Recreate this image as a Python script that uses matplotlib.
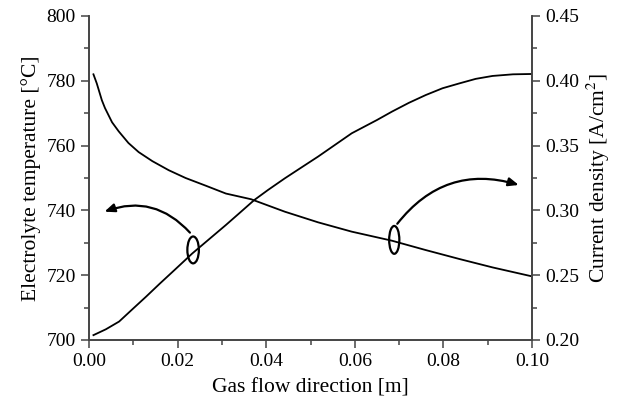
import matplotlib
matplotlib.use('Agg')
import matplotlib.pyplot as plt
from matplotlib.patches import Ellipse, FancyArrowPatch
from matplotlib.ticker import MultipleLocator

plt.rcParams['font.family'] = ['Liberation Serif', 'DejaVu Serif']
plt.rcParams['mathtext.fontset'] = 'stix'

# electrolyte temperature along the channel (left axis)
x_temp = [0.001, 0.0038, 0.0068, 0.0098, 0.0129, 0.0159, 0.0193, 0.0233,
          0.0271, 0.0309, 0.0339, 0.0373, 0.0404, 0.0442, 0.048, 0.0517, 0.0555,
          0.0593, 0.065, 0.0684, 0.0722, 0.076, 0.0798, 0.0836, 0.0873, 0.0911,
          0.0957, 0.0998]
temp = [701.5, 703.3, 705.7, 709.5, 713.4, 717.3, 721.6, 726.7,
        731.1, 735.5, 739.1, 743.2, 746.3, 749.9, 753.3, 756.6, 760.2,
        763.8, 767.9, 770.5, 773.2, 775.6, 777.7, 779.2, 780.6, 781.5,
        782.0, 782.1]

# current density (right axis)
x_cd = [0.001, 0.00175, 0.0029, 0.0036, 0.0052, 0.0067, 0.0089, 0.0112, 0.0143,
        0.018, 0.0218, 0.0264, 0.0309, 0.0366, 0.0442, 0.0517, 0.0593, 0.0684,
        0.076, 0.0836, 0.0911, 0.0996]
cd = [0.405, 0.398, 0.385, 0.379, 0.368, 0.361, 0.352, 0.345, 0.338,
      0.331, 0.325, 0.319, 0.313, 0.3086, 0.299, 0.2908, 0.2836, 0.2766,
      0.2694, 0.2625, 0.256, 0.2494]

fig = plt.figure(figsize=(6.19, 4.05), dpi=100)
ax = fig.add_axes([0.1438, 0.1605, 0.7157, 0.8])
ax2 = ax.twinx()

ax.plot(x_temp, temp, color='black', lw=1.3)
ax2.plot(x_cd, cd, color='black', lw=1.3)

ax.set_xlim(0, 0.1)
ax.set_ylim(700, 800)
ax2.set_ylim(0.20, 0.45)

ax.xaxis.set_major_locator(MultipleLocator(0.02))
ax.xaxis.set_minor_locator(MultipleLocator(0.01))
ax.yaxis.set_major_locator(MultipleLocator(20))
ax.yaxis.set_minor_locator(MultipleLocator(10))
ax2.yaxis.set_major_locator(MultipleLocator(0.05))
ax2.yaxis.set_minor_locator(MultipleLocator(0.025))
ax.xaxis.set_major_formatter(plt.FormatStrFormatter('%.2f'))
ax2.yaxis.set_major_formatter(plt.FormatStrFormatter('%.2f'))

for a in (ax, ax2):
    a.spines['top'].set_visible(False)
    for s in a.spines.values():
        s.set_color('#444444')
        s.set_linewidth(1.2)
    a.tick_params(which='major', direction='out', length=6, width=1.1, color='#444444', labelsize=14)
    a.tick_params(which='minor', direction='out', length=3.5, width=1.1, color='#444444')

ax.set_xlabel('Gas flow direction [m]', fontsize=15.5, labelpad=6)
ax.set_ylabel('Electrolyte temperature [°C]', fontsize=15.5, labelpad=4)
ax2.set_ylabel('Current density [A/cm$^2$]', fontsize=15.5, labelpad=4)

# marker ellipses and curved arrows
ax.add_patch(Ellipse((0.0235, 727.8), 0.0026, 8.3, fill=False, lw=1.6, color='black'))
ax.add_patch(Ellipse((0.0689, 730.9), 0.0023, 8.6, fill=False, lw=1.6, color='black'))
ax.add_patch(FancyArrowPatch((0.0232, 732.5), (0.0029, 739.3), connectionstyle='arc3,rad=0.35',
                             arrowstyle='-|>,head_length=6,head_width=2.5', lw=1.6, color='black'))
ax.add_patch(FancyArrowPatch((0.0692, 735.2), (0.0976, 747.6), connectionstyle='arc3,rad=-0.35',
                             arrowstyle='-|>,head_length=6,head_width=2.5', lw=1.6, color='black'))

fig.savefig('out.png', dpi=100)
